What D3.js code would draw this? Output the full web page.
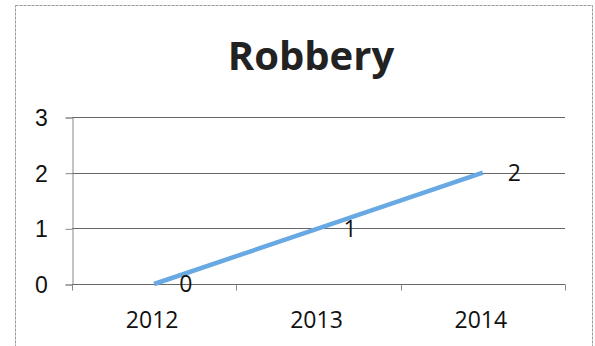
<!DOCTYPE html>
<html>
<head>
<meta charset="utf-8">
<script src="https://cdn.jsdelivr.net/npm/d3@7"></script>
<style>
  body { margin: 0; background: #fff; }
  svg { display: block; font-family: "Open Sans", sans-serif; }
</style>
</head>
<body>
<div id="chart"></div>
<script>
// Chart data
var years = ["2012", "2013", "2014"];
var robberies = [0, 1, 2];
var yTicks = [0, 1, 2, 3];

var width = 595, height = 346;
var plot = { left: 72, right: 565, top: 117, bottom: 284 };

var svg = d3.select("#chart").append("svg")
    .attr("width", width)
    .attr("height", height);

// Outer frame of the chart object
svg.append("rect")
    .attr("x", 15.5).attr("y", 5.5)
    .attr("width", 577).attr("height", 360)
    .attr("fill", "none")
    .attr("stroke", "#999")
    .attr("stroke-dasharray", "3,1")
    .attr("stroke-width", 1);

// Title
svg.append("text")
    .attr("x", 311).attr("y", 70)
    .attr("text-anchor", "middle")
    .style("font-size", "40px")
    .style("font-weight", "bold")
    .attr("fill", "#222")
    .text("Robbery");

// Scales
var x = d3.scaleBand().domain(years).range([plot.left, plot.right]).padding(0);
var y = d3.scaleLinear().domain([0, 3]).range([plot.bottom, plot.top]);

// Horizontal gridlines
svg.append("g")
    .selectAll("line")
    .data(yTicks)
    .enter()
    .append("line")
    .attr("x1", plot.left).attr("x2", plot.right)
    .attr("y1", function (d) { return Math.round(y(d)) + 0.5; })
    .attr("y2", function (d) { return Math.round(y(d)) + 0.5; })
    .attr("stroke", "#666")
    .attr("stroke-width", 1);

// Y axis
var yAxis = svg.append("g")
    .attr("transform", "translate(" + (plot.left + 0.5) + ",0.5)")
    .call(d3.axisLeft(y).tickValues(yTicks).tickFormat(d3.format("d")).tickSize(7).tickPadding(24));
yAxis.select(".domain").attr("stroke", "#888");
yAxis.selectAll(".tick line").attr("stroke", "#888");
yAxis.selectAll("text")
    .style("font-size", "23px")
    .attr("fill", "#111")
    .attr("text-anchor", "middle")
    .attr("dy", "0.35em");

// X axis: ticks on band edges
var xAxis = svg.append("g")
    .attr("transform", "translate(0," + (Math.round(y(0)) + 0.5) + ")");
xAxis.append("line")
    .attr("x1", plot.left).attr("x2", plot.right)
    .attr("stroke", "#666");
var edges = years.map(function (d) { return x(d); }).concat([x(years[years.length - 1]) + x.bandwidth()]);
xAxis.selectAll(".edge")
    .data(edges)
    .enter()
    .append("line")
    .attr("x1", function (d) { return Math.round(d) + 0.5; })
    .attr("x2", function (d) { return Math.round(d) + 0.5; })
    .attr("y1", 0).attr("y2", 6)
    .attr("stroke", "#888");
xAxis.selectAll("text")
    .data(years)
    .enter()
    .append("text")
    .attr("x", function (d) { return x(d) + x.bandwidth() / 2 - 2; })
    .attr("y", 43)
    .attr("text-anchor", "middle")
    .style("font-size", "23px")
    .attr("fill", "#111")
    .text(function (d) { return d; });

// Line
var line = d3.line()
    .x(function (d, i) { return x(years[i]) + x.bandwidth() / 2; })
    .y(function (d) { return y(d); });

svg.append("path")
    .datum(robberies)
    .attr("d", line)
    .attr("fill", "none")
    .attr("stroke", "#68a9e3")
    .attr("stroke-width", 4.5);

// Data labels, placed right of each point
svg.append("g")
    .selectAll("text")
    .data(robberies)
    .enter()
    .append("text")
    .attr("x", function (d, i) { return x(years[i]) + x.bandwidth() / 2 + 25; })
    .attr("y", function (d) { return y(d); })
    .attr("dy", "0.36em")
    .style("font-size", "23px")
    .attr("fill", "#111")
    .text(function (d) { return d; });
</script>
</body>
</html>
